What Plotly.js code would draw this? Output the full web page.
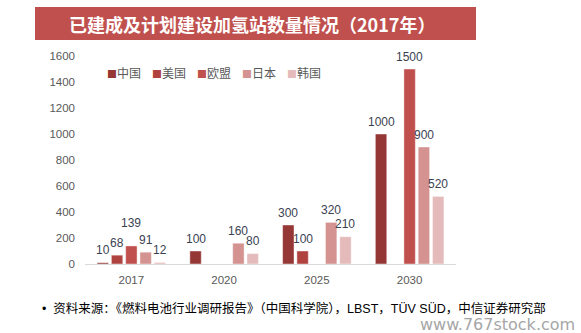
<!DOCTYPE html>
<html>
<head>
<meta charset="utf-8">
<script src="https://cdn.plot.ly/plotly-3.0.1.min.js"></script>
<style>
html,body{margin:0;padding:0;background:#fff;}
#chart{width:581px;height:333px;}
</style>
</head>
<body>
<div id="chart"></div>
<script>
// ---- data ----
const categories = ['2017', '2020', '2025', '2030'];
const seriesNames = ['中国', '美国', '欧盟', '日本', '韩国'];
const china = [10, 100, 300, 1000];
const usa = [68, null, 100, null];
const eu = [139, null, null, 1500];
const japan = [91, 160, 320, 900];
const korea = [12, 80, 210, 520];
const yTicks = [0, 200, 400, 600, 800, 1000, 1200, 1400, 1600];
const titleText = '已建成及计划建设加氢站数量情况（2017年）';
const sourceText = '•  资料来源：《燃料电池行业调研报告》（中国科学院），LBST，TÜV SÜD，中信证券研究部';
const watermark = 'www.767stock.com';

const seriesValues = [china, usa, eu, japan, korea];
const colors = ['#953735', '#B0433F', '#C0504D', '#D49290', '#E4BBBA'];

// ---- geometry (layout only) ----
const W = 581, H = 333;
const M = {l: 85, r: 125, t: 56, b: 69};
const plotW = W - M.l - M.r, plotH = H - M.t - M.b;
const bargap = 0.23, bargroupgap = 0.2;
const slotPx = (plotW / categories.length) * (1 - bargap) / seriesValues.length;
const labelLift = 12.5;            // px from bar top to label centre
const extraLift = {'2-0': 10};     // series-category label nudged upward in the original

const traces = seriesValues.map((vals, i) => ({
  type: 'bar',
  name: seriesNames[i],
  x: categories,
  y: vals,
  marker: {color: colors[i], line: {color: 'rgba(255,255,255,0.55)', width: 0.8}},
  hoverinfo: 'skip',
  showlegend: false
}));

// value labels, placed through the axes at each bar's value (category index on x)
const valueLabels = [];
seriesValues.forEach((vals, i) => {
  vals.forEach((v, j) => {
    if (v == null) return;
    valueLabels.push({
      text: String(v),
      xref: 'x', yref: 'y',
      x: j, y: v,
      xshift: (i - (seriesValues.length - 1) / 2) * slotPx,
      yshift: labelLift + (extraLift[i + '-' + j] || 0),
      xanchor: 'center', yanchor: 'middle',
      showarrow: false,
      font: {family: 'Liberation Sans, Arial, sans-serif', size: 12, color: '#3A4252'}
    });
  });
});

// legend entries (drawn as text, one per series)
const legendAnnotations = seriesNames.map((name, i) => ({
  text: '<span style="color:' + colors[i] + ';font-size:10px">■</span>' + name,
  xref: 'paper', yref: 'paper',
  x: (105 + i * 45 - M.l) / plotW, y: (H - M.b - 72.5) / plotH,
  xanchor: 'left', yanchor: 'middle',
  showarrow: false,
  font: {family: 'Noto Sans CJK SC, sans-serif', size: 12, color: '#595959'}
}));

const px2x = px => (px - M.l) / plotW;
const px2y = py => (H - M.b - py) / plotH;

const layout = {
  width: W,
  height: H,
  margin: {l: M.l, r: M.r, t: M.t, b: M.b, pad: 0},
  paper_bgcolor: '#ffffff',
  plot_bgcolor: '#ffffff',
  barmode: 'group',
  bargap: bargap,
  bargroupgap: bargroupgap,
  showlegend: false,
  xaxis: {
    type: 'category',
    categoryarray: categories,
    range: [-0.5, categories.length - 0.5],
    showline: true,
    linecolor: '#D9D9D9',
    linewidth: 1,
    ticks: '',
    showgrid: false,
    zeroline: false,
    tickfont: {family: 'Liberation Sans, Arial, sans-serif', size: 11.5, color: '#595959'},
    ticklabelstandoff: 5
  },
  yaxis: {
    range: [0, 1600],
    tickvals: yTicks,
    ticktext: yTicks.map(String),
    showline: false,
    showgrid: false,
    zeroline: false,
    ticks: '',
    tickfont: {family: 'Liberation Sans, Arial, sans-serif', size: 11.5, color: '#595959'},
    ticklabelstandoff: 9
  },
  shapes: [{
    type: 'rect', xref: 'paper', yref: 'paper',
    x0: px2x(35), x1: px2x(476),
    y0: px2y(40), y1: px2y(7),
    fillcolor: '#C0504D', line: {width: 0}, layer: 'below'
  }],
  annotations: [
    {
      text: '<b>' + titleText + '</b>',
      xref: 'paper', yref: 'paper',
      x: px2x(252), y: px2y(24),
      xanchor: 'center', yanchor: 'middle',
      showarrow: false,
      font: {family: 'Noto Sans CJK SC, sans-serif', size: 18, color: '#ffffff'}
    },
    {
      text: sourceText,
      xref: 'paper', yref: 'paper',
      x: px2x(40), y: px2y(308.5),
      xanchor: 'left', yanchor: 'middle',
      showarrow: false,
      font: {family: 'Liberation Sans, Noto Sans CJK SC, sans-serif', size: 12.5, color: '#000000'}
    },
    {
      text: watermark,
      xref: 'paper', yref: 'paper',
      x: px2x(577), y: px2y(324),
      xanchor: 'right', yanchor: 'middle',
      showarrow: false,
      font: {family: 'DejaVu Sans, sans-serif', size: 16, color: '#A6A6A6'}
    }
  ].concat(legendAnnotations, valueLabels)
};

Plotly.newPlot('chart', traces, layout, {displayModeBar: false, staticPlot: true});
</script>
</body>
</html>
